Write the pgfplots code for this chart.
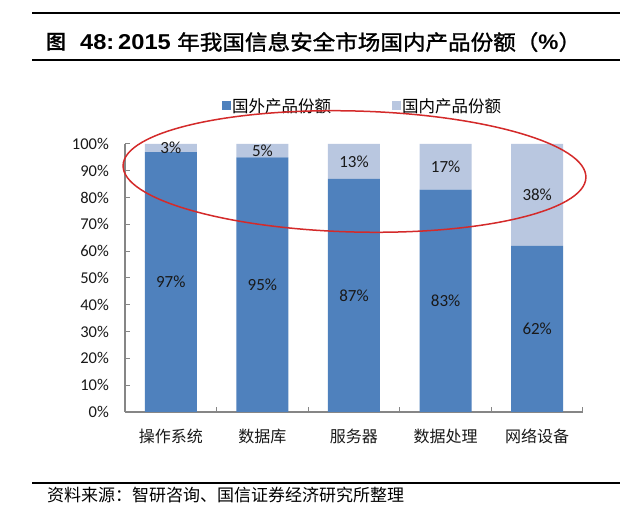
\documentclass[border=0pt]{standalone}
\usepackage{pgfplots}
\pgfplotsset{compat=1.18}
\usepackage{pgfplotstable}
\usepackage{graphicx}
\usepackage{fontspec}
\setmainfont{Carlito}
\newfontfamily\cjk[BoldFont={Noto Sans CJK SC Bold}]{Noto Sans CJK SC}
\newfontfamily\cjkm[FakeBold=1.2]{Noto Sans CJK SC}
\newfontfamily\arial{Liberation Sans}
\definecolor{darkb}{HTML}{4F81BD}
\definecolor{lightb}{HTML}{B9C7E0}
\definecolor{axgray}{HTML}{868686}
\definecolor{ellred}{HTML}{D42A2A}
\pgfplotstableread{
x foreign domestic
0 97 3
1 95 5
2 87 13
3 83 17
4 62 38
}\shares
\pgfplotsset{
  sqlegend/.style={legend image code/.code={\fill[##1] (0pt,-4.5pt) rectangle (9pt,4.5pt);}},
}
\begin{document}
\begin{tikzpicture}[x=1pt,y=1pt]
\useasboundingbox (0,0) rectangle (640,527);
\fill[white] (0,0) rectangle (640,527);
\draw[line width=2pt] (32,514) -- (620,514);
\draw[line width=2pt] (32,467) -- (620,467);
\node[anchor=base west, inner sep=0] at (46,477) {\fontsize{20}{24}\selectfont\cjk\bfseries 图};
\node[anchor=base west, inner sep=0] at (80,477) {\scalebox{1.1}[1]{\fontsize{21.5}{24}\selectfont\arial\bfseries 48:}};
\node[anchor=base west, inner sep=0] at (118,477) {\scalebox{1.1}[1]{\fontsize{21.5}{24}\selectfont\arial\bfseries 2015}};
\node[anchor=base west, inner sep=0] at (177,477) {\scalebox{1.075}[1]{\fontsize{21}{24}\selectfont\cjkm 年我国信息安全市场国内产品份额（{\arial\bfseries\%}）}};
\begin{axis}[
  at={(125pt,115pt)}, anchor=south west,
  width=458pt, height=268pt, scale only axis,
  ybar stacked, bar width=52pt,
  xmin=-0.5, xmax=4.5, ymin=0, ymax=100,
  axis x line*=bottom, axis y line*=left,
  axis line style={axgray, line width=1.2pt},
  tick align=inside,
  xtick={0,1,2,3,4},
  xticklabels={操作系统,数据库,服务器,数据处理,网络设备},
  major x tick style={draw=none},
  minor xtick={0.5,1.5,2.5,3.5,4.5},
  minor tick length=5pt, major tick length=5pt,
  tick style={axgray, line width=1pt},
  ytick={0,10,...,100},
  yticklabel={\pgfmathprintnumber{\tick}\%},
  /pgf/number format/assume math mode=true,
  yticklabel style={font=\fontsize{16.5}{18}\selectfont, text=black!90, anchor=east, inner sep=0pt, xshift=-16pt},
  xticklabel style={font=\cjk\fontsize{16}{18}\selectfont, text=black!90, anchor=north, inner sep=0pt, yshift=-17pt},
  legend columns=2,
  legend style={draw=none, fill=none, at={(0.2118,1.142)}, anchor=west,
    font=\cjk\fontsize{16.5}{18}\selectfont, inner sep=0pt,
    /tikz/every even column/.append style={column sep=60pt},
    nodes={inner sep=1pt}},
  nodes near coords={\pgfmathprintnumber{\pgfplotspointmeta}\%},
  point meta=explicit,
  every node near coord/.append style={font=\fontsize{17}{19}\selectfont, text=black!90, anchor=center},
]
\addplot[fill=darkb, draw=none, sqlegend]
  table[x=x, y=foreign, meta=foreign] {\shares};
\addlegendentry{国外产品份额}
\addplot[fill=lightb, draw=none, sqlegend]
  table[x=x, y=domestic, meta=domestic] {\shares};
\addlegendentry{国内产品份额}
\end{axis}
\draw[ellred, line width=1.5pt, rotate around={-1.5:(354.5,355.5)}] (354.5,355.5) ellipse [x radius=231.5, y radius=60.5];
\draw[line width=2pt] (32,44) -- (620,44);
\node[anchor=west, inner sep=0] at (47,32) {\cjk\fontsize{17}{19}\selectfont 资料来源：智研咨询、国信证券经济研究所整理};
\end{tikzpicture}
\end{document}
